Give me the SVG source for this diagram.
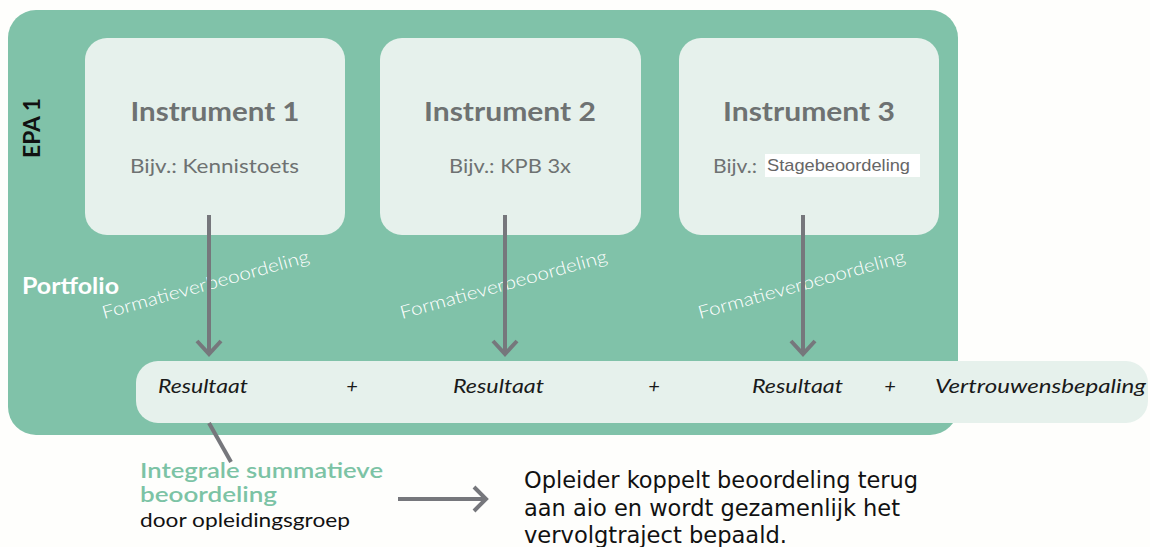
<svg xmlns="http://www.w3.org/2000/svg" width="1150" height="547" viewBox="0 0 1150 547">
  <style>
    .box { fill: #E6F1EC; }
    .title { font-family: Lato, "Open Sans", sans-serif; font-weight: 700; font-size: 26px; fill: #6E7272; text-anchor: middle; }
    .sub { font-family: Lato, "Open Sans", sans-serif; font-size: 19px; fill: #6E7272; }
    .form { font-family: Lato, "Open Sans", sans-serif; font-weight: 300; font-size: 18px; fill: #FFFFFF; }
    .res { font-family: Lato, "Open Sans", sans-serif; font-style: italic; font-size: 20px; fill: #1A1A1A; }
    .conn { stroke: #76777C; stroke-width: 4; fill: none; }
    .head { stroke: #76777C; stroke-width: 4; fill: none; stroke-linejoin: miter; }
    .green { font-family: Lato, "Open Sans", sans-serif; font-weight: 600; font-size: 21px; fill: #7CC3A5; }
    .note { font-family: "DejaVu Sans Condensed", "DejaVu Sans", sans-serif; font-size: 23px; fill: #111111; }
  </style>
  <rect width="1150" height="547" fill="#FEFEFC"/>
  <g id="epa-panel">
    <rect x="8" y="10" width="950" height="425" rx="28" fill="#80C2A9"/>
    <text x="40" y="158" transform="rotate(-90 40 158)" font-family="Lato, 'Open Sans', sans-serif" font-weight="700" font-size="23" fill="#111111" textLength="60" lengthAdjust="spacingAndGlyphs">EPA 1</text>
    <text x="22" y="294" font-family="Lato, 'Open Sans', sans-serif" font-weight="700" font-size="22" fill="#FFFFFF" textLength="97" lengthAdjust="spacingAndGlyphs">Portfolio</text>
  </g>
  <g id="instrument-1">
    <rect class="box" x="85" y="38" width="260" height="197" rx="22"/>
    <text class="title" x="215" y="121" textLength="169" lengthAdjust="spacingAndGlyphs">Instrument 1</text>
    <text class="sub" x="130" y="173" textLength="169" lengthAdjust="spacingAndGlyphs">Bijv.: Kennistoets</text>
  </g>
  <g id="instrument-2">
    <rect class="box" x="380" y="38" width="261" height="197" rx="22"/>
    <text class="title" x="510" y="121" textLength="172" lengthAdjust="spacingAndGlyphs">Instrument 2</text>
    <text class="sub" x="449" y="173" textLength="122" lengthAdjust="spacingAndGlyphs">Bijv.: KPB 3x</text>
  </g>
  <g id="instrument-3">
    <rect class="box" x="679" y="38" width="260" height="197" rx="22"/>
    <text class="title" x="809" y="121" textLength="172" lengthAdjust="spacingAndGlyphs">Instrument 3</text>
    <text class="sub" x="713" y="173" textLength="44" lengthAdjust="spacingAndGlyphs">Bijv.:</text>
    <rect x="765" y="154" width="155" height="23" fill="#FFFFFF"/>
    <text x="767" y="171" font-family="'Liberation Sans', Arial, sans-serif" font-size="17" fill="#666666" textLength="143" lengthAdjust="spacingAndGlyphs">Stagebeoordeling</text>
  </g>
  <g id="formative-labels">
    <text class="form" x="104" y="319" transform="rotate(-15.5 104 319)" textLength="214" lengthAdjust="spacingAndGlyphs">Formatieverbeoordeling</text>
    <text class="form" x="402" y="319" transform="rotate(-15.5 402 319)" textLength="214" lengthAdjust="spacingAndGlyphs">Formatieverbeoordeling</text>
    <text class="form" x="700" y="319" transform="rotate(-15.5 700 319)" textLength="214" lengthAdjust="spacingAndGlyphs">Formatieverbeoordeling</text>
  </g>
  <g id="result-bar">
    <rect class="box" x="136" y="361" width="1012" height="62" rx="22"/>
    <text class="res" x="158" y="393" textLength="90" lengthAdjust="spacingAndGlyphs">Resultaat</text>
    <text class="res" x="352" y="393" text-anchor="middle">+</text>
    <text class="res" x="453" y="393" textLength="91" lengthAdjust="spacingAndGlyphs">Resultaat</text>
    <text class="res" x="654" y="393" text-anchor="middle">+</text>
    <text class="res" x="752" y="393" textLength="91" lengthAdjust="spacingAndGlyphs">Resultaat</text>
    <text class="res" x="890" y="393" text-anchor="middle">+</text>
    <text class="res" x="935" y="393" textLength="211" lengthAdjust="spacingAndGlyphs">Vertrouwensbepaling</text>
  </g>
  <g id="connectors">
    <line class="conn" x1="209" y1="215" x2="209" y2="354"/>
    <polyline class="head" points="197,341 209,354 221,341"/>
    <line class="conn" x1="505" y1="215" x2="505" y2="354"/>
    <polyline class="head" points="493,341 505,354 517,341"/>
    <line class="conn" x1="803" y1="215" x2="803" y2="354"/>
    <polyline class="head" points="791,341 803,354 815,341"/>
    <line class="conn" x1="209" y1="423" x2="231" y2="462"/>
    <line class="conn" x1="398" y1="499" x2="486" y2="499"/>
    <polyline class="head" points="474,487 486,499 474,511"/>
  </g>
  <g id="summative">
    <text class="green" x="140" y="478" textLength="243" lengthAdjust="spacingAndGlyphs">Integrale summatieve</text>
    <text class="green" x="140" y="502" textLength="137" lengthAdjust="spacingAndGlyphs">beoordeling</text>
    <text x="140" y="527" font-family="Lato, 'Open Sans', sans-serif" font-size="19" fill="#111111" textLength="210" lengthAdjust="spacingAndGlyphs">door opleidingsgroep</text>
  </g>
  <g id="feedback-note">
    <text class="note" x="524" y="488" textLength="394" lengthAdjust="spacingAndGlyphs">Opleider koppelt beoordeling terug</text>
    <text class="note" x="524" y="516" textLength="376" lengthAdjust="spacingAndGlyphs">aan aio en wordt gezamenlijk het</text>
    <text class="note" x="524" y="543" textLength="263" lengthAdjust="spacingAndGlyphs">vervolgtraject bepaald.</text>
  </g>
</svg>
